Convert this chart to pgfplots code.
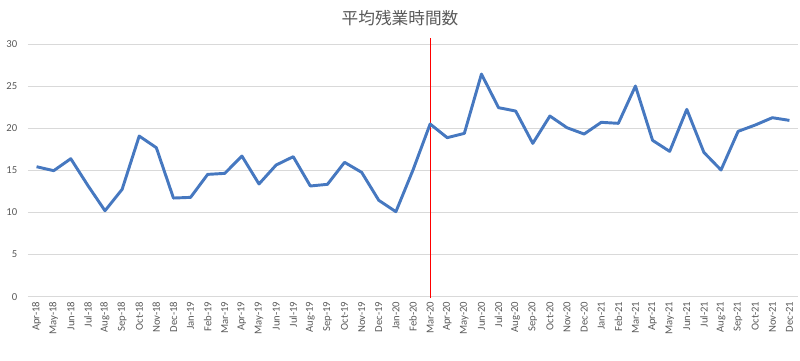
\documentclass[border=0pt]{standalone}
\usepackage{pgfplots}
\pgfplotsset{compat=1.18}
\usepackage{fontspec}
\setmainfont{Carlito}
\newfontfamily\cjk{Noto Sans CJK JP}
\definecolor{txt}{HTML}{595959}
\definecolor{grd}{HTML}{D9D9D9}
\definecolor{ln}{RGB}{70,120,192}
\pgfplotstableread{
x y
0 15.43
1 14.96
2 16.38
3 13.2
4 10.2
5 12.74
6 19.07
7 17.69
8 11.71
9 11.79
10 14.52
11 14.64
12 16.7
13 13.38
14 15.63
15 16.62
16 13.14
17 13.34
18 15.95
19 14.76
20 11.44
21 10.09
22 15.04
23 20.5
24 18.88
25 19.39
26 26.43
27 22.44
28 22.04
29 18.2
30 21.45
31 20.06
32 19.31
33 20.7
34 20.58
35 25.01
36 18.56
37 17.25
38 22.24
39 17.13
40 15.04
41 19.63
42 20.38
43 21.25
44 20.93
}\data
\begin{document}
\begin{tikzpicture}
\begin{axis}[
  scale only axis,
  width=577.5pt, height=189.5pt,
  xmin=-0.5, xmax=44.5, ymin=0, ymax=30,
  ytick={0,5,...,30},
  xtick={0,...,44},
  xticklabels={Apr-18,May-18,Jun-18,Jul-18,Aug-18,Sep-18,Oct-18,Nov-18,Dec-18,Jan-19,Feb-19,Mar-19,Apr-19,May-19,Jun-19,Jul-19,Aug-19,Sep-19,Oct-19,Nov-19,Dec-19,Jan-20,Feb-20,Mar-20,Apr-20,May-20,Jun-20,Jul-20,Aug-20,Sep-20,Oct-20,Nov-20,Dec-20,Jan-21,Feb-21,Mar-21,Apr-21,May-21,Jun-21,Jul-21,Aug-21,Sep-21,Oct-21,Nov-21,Dec-21},
  x tick label style={rotate=90, anchor=east, font=\fontsize{8}{9}\selectfont, text=txt, inner sep=1pt},
  y tick label style={font=\fontsize{8}{9}\selectfont, text=txt},
  /pgf/number format/assume math mode=true,
  minor xtick={-0.5,0.5,...,44.5},
  major tick length=0pt,
  minor tick length=3pt,
  tick align=outside,
  minor tick style={grd, line width=0.75pt},
  ymajorgrids,
  grid style={grd, line width=0.75pt},
  axis line style={draw=none},
  axis x line*=bottom,
  axis y line*=left,
  y axis line style={draw=none},
  x axis line style={draw=grd, line width=0.75pt},
  ytick style={draw=none},
  xtick style={draw=none},
  xticklabel shift=2.5pt,
  yticklabel shift=4.5pt,
  clip=false,
]
\addplot[red, line width=0.75pt] coordinates {(23,-0.2) (23,30.7)};
\addplot[ln, line width=2.2pt, line join=round] table[x=x,y=y]{\data};
\end{axis}
\node[anchor=center, text=txt, font=\cjk\fontsize{12.5}{14}\selectfont] at ([xshift=279pt, yshift=19.5pt]current axis.north west) {平均残業時間数};
\pgfresetboundingbox
\path ([xshift=-21pt, yshift=-47.5pt]current axis.south west) rectangle ([xshift=1.5pt, yshift=33pt]current axis.north east);
\end{tikzpicture}
\end{document}
